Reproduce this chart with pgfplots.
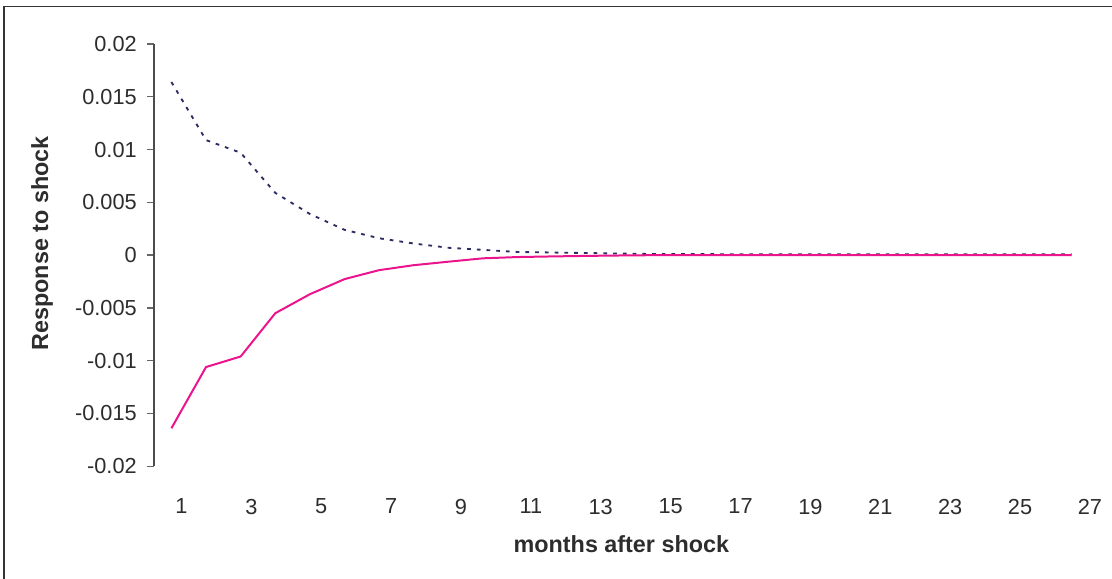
\documentclass[border=0pt]{standalone}
\usepackage{pgfplots}
\pgfplotsset{compat=1.18}
\usepackage{fontspec}
\setmainfont{Liberation Sans}
\definecolor{pinkline}{RGB}{236,20,140}
\definecolor{navyline}{RGB}{45,45,100}
\definecolor{txt}{RGB}{45,45,45}
\begin{document}
\begin{tikzpicture}
\begin{axis}[
  at={(0,0)}, anchor=south west,
  scale only axis,
  width=703.3pt, height=316.5pt,
  xmin=0.5, xmax=27.6,
  ymin=-0.02, ymax=0.02,
  scaled y ticks=false,
  axis lines=left,
  axis line style={-},
  x axis line style={draw=none},
  y axis line style={draw=black!70, line width=1pt},
  xtick={1.29,3.308,5.327,7.345,9.364,11.382,13.40,15.419,17.437,19.456,21.474,23.492,25.511,27.529},
  xticklabels={1,3,5,7,9,11,13,15,17,19,21,23,25,27},
  xtick style={draw=none},
  ytick={-0.02,-0.015,-0.01,-0.005,0,0.005,0.01,0.015,0.02},
  yticklabels={-0.02,-0.015,-0.01,-0.005,0,0.005,0.01,0.015,0.02},
  tick align=outside,
  major tick length=5.5pt,
  ytick style={draw=black!60, line width=1pt},
  ticklabel style={font=\fontsize{16.3}{19}\selectfont, text=txt},
  xticklabel style={yshift=-15.5pt},
  yticklabel style={xshift=-4pt},
  xlabel={months after shock},
  ylabel={Response to shock},
  every axis x label/.style={at={(axis description cs:0.498,-0.1833)}, anchor=center,
    font=\bfseries\fontsize{17.5}{20}\selectfont, text=txt},
  every axis y label/.style={at={(axis description cs:-0.1194,0.528)}, anchor=center, rotate=90,
    font=\bfseries\fontsize{17.5}{20}\selectfont, text=txt},
  clip=false,
]
\addplot[color=navyline, line width=1.4pt, dash pattern=on 2.8pt off 4.5pt] coordinates {
(1,0.0164) (2,0.0109) (3,0.0097) (4,0.0059) (5,0.0039) (6,0.0024) (7,0.0016)
(8,0.0011) (9,0.0007) (10,0.0005) (11,0.0003) (12,0.00025) (13,0.0002) (14,0.00015)
(15,0.0001) (16,0.0001) (17,0.00009) (18,0.00009) (19,0.00009) (20,0.00009)
(21,0.00009) (22,0.00009) (23,0.00009) (24,0.00009) (25,0.00009) (26,0.00009) (27,0.00009)
};
\addplot[color=pinkline, line width=1.5pt] coordinates {
(1,-0.0164) (2,-0.0106) (3,-0.0096) (4,-0.0055) (5,-0.0037) (6,-0.00227) (7,-0.00142)
(8,-0.00095) (9,-0.00062) (10,-0.0003) (11,-0.00018) (12,-0.00012) (13,-0.00007) (14,-0.00003)
(15,0) (16,0) (17,0) (18,0) (19,0) (20,0) (21,0) (22,0) (23,0) (24,0) (25,0) (26,0) (27,0)
};
\end{axis}
\draw[line width=1.1pt, color=black!80] (-112.6pt,-95pt) -- (-112.6pt,344.6pt) -- (730pt,344.6pt);
\pgfresetboundingbox
\path[use as bounding box] (-115.5pt,-84pt) rectangle (718pt,349.5pt);
\end{tikzpicture}
\end{document}
